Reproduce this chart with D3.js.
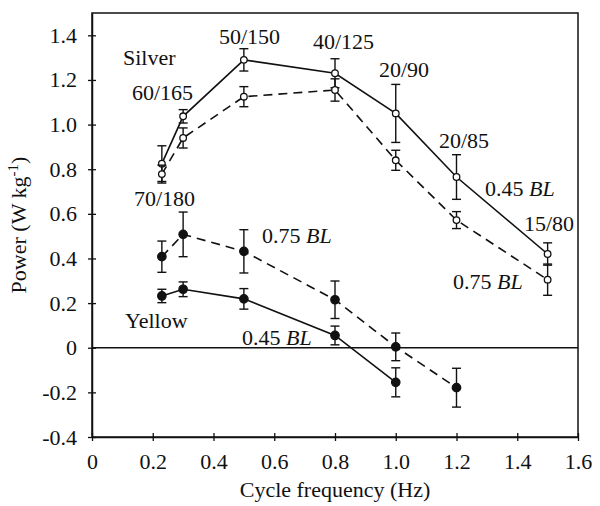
<!DOCTYPE html>
<html>
<head>
<meta charset="utf-8">
<script src="https://cdn.jsdelivr.net/npm/d3@7"></script>
<style>
  html, body { margin: 0; padding: 0; background: #fff; }
  svg { display: block; }
  text { font-family: "Liberation Serif", "Times New Roman", serif; fill: #111; }
</style>
</head>
<body>
<svg id="chart" width="600" height="506"></svg>
<script>
// ---- Data ----
const silverFreqs = [0.23, 0.3, 0.5, 0.8, 1.0, 1.2, 1.5];
const silver045 = [0.825, 1.037, 1.29, 1.23, 1.05, 0.765, 0.42];
const silver045Err = [0.08, 0.03, 0.05, 0.065, 0.13, 0.1, 0.05];
const silver075 = [0.778, 0.94, 1.125, 1.155, 0.84, 0.572, 0.305];
const silver075Err = [0.04, 0.045, 0.045, 0.05, 0.045, 0.038, 0.07];

const yellow045Freqs = [0.23, 0.3, 0.5, 0.8, 1.0];
const yellow045 = [0.232, 0.262, 0.219, 0.055, -0.155];
const yellow045Err = [0.03, 0.033, 0.046, 0.042, 0.065];
const yellow075Freqs = [0.23, 0.3, 0.5, 0.8, 1.0, 1.2];
const yellow075 = [0.408, 0.508, 0.432, 0.215, 0.004, -0.179];
const yellow075Err = [0.07, 0.1, 0.097, 0.084, 0.062, 0.087];

const xTicks = [0, 0.2, 0.4, 0.6, 0.8, 1.0, 1.2, 1.4, 1.6];
const xTickLabels = ["0", "0.2", "0.4", "0.6", "0.8", "1.0", "1.2", "1.4", "1.6"];
const yTicks = [-0.4, -0.2, 0, 0.2, 0.4, 0.6, 0.8, 1.0, 1.2, 1.4];
const yTickLabels = ["-0.4", "-0.2", "0", "0.2", "0.4", "0.6", "0.8", "1.0", "1.2", "1.4"];

const annotationTexts = ["Silver", "60/165", "50/150", "40/125", "20/90", "20/85", "15/80",
  "70/180", "Yellow"];
const blLabels = [["0.45 ", "BL"], ["0.75 ", "BL"], ["0.75 ", "BL"], ["0.45 ", "BL"]];

// ---- Layout ----
const svg = d3.select("#chart");
const mLeft = 92, mRight = 578, mTop = 13, mBottom = 437;
const x = d3.scaleLinear().domain([0, 1.6]).range([mLeft, mRight]);
const y = d3.scaleLinear().domain([-0.4, 1.5]).range([mBottom, mTop]);
const FS = 22;

// frame
svg.append("rect").attr("x", mLeft).attr("y", mTop).attr("width", mRight - mLeft).attr("height", mBottom - mTop)
  .attr("fill", "none").attr("stroke", "#111").attr("stroke-width", 1.5);

// zero line
svg.append("line").attr("x1", mLeft).attr("x2", mRight).attr("y1", y(0)).attr("y2", y(0))
  .attr("stroke", "#111").attr("stroke-width", 1.3);

// axes
const xAxis = d3.axisBottom(x).tickValues(xTicks).tickFormat((d, i) => xTickLabels[i])
  .tickSizeInner(4).tickSizeOuter(0).tickPadding(12);
const gx = svg.append("g").attr("transform", `translate(0,${mBottom})`).call(xAxis);
gx.select(".domain").attr("stroke", "#111").attr("stroke-width", 1.5);
gx.selectAll(".tick line").attr("y1", -4).attr("y2", 4).attr("stroke", "#111").attr("stroke-width", 1.3);
gx.selectAll(".tick text").attr("font-size", FS).attr("font-family", "Liberation Serif").attr("fill", "#111");

const yAxis = d3.axisLeft(y).tickValues(yTicks).tickFormat((d, i) => yTickLabels[i])
  .tickSizeInner(4).tickSizeOuter(0).tickPadding(11);
const gy = svg.append("g").attr("transform", `translate(${mLeft},0)`).call(yAxis);
gy.select(".domain").attr("stroke", "#111").attr("stroke-width", 1.5);
gy.selectAll(".tick line").attr("x1", -4).attr("x2", 4).attr("stroke", "#111").attr("stroke-width", 1.3);
gy.selectAll(".tick text").attr("font-size", FS).attr("font-family", "Liberation Serif").attr("fill", "#111");

// axis titles
svg.append("text").attr("x", (mLeft + mRight) / 2).attr("y", 497).attr("text-anchor", "middle")
  .attr("font-size", FS).text("Cycle frequency (Hz)");
const yt = svg.append("text").attr("transform", `translate(26,${(mTop + mBottom) / 2}) rotate(-90)`)
  .attr("text-anchor", "middle").attr("font-size", FS);
yt.append("tspan").text("Power (W kg");
yt.append("tspan").attr("dy", -8).attr("font-size", 15).text("-1");
yt.append("tspan").attr("dy", 8).text(")");

// series
function drawSeries(fx, vals, errs, dashed, filled) {
  const pts = fx.map((f, i) => ({ f, v: vals[i], e: errs[i] }));
  const line = d3.line().x(d => x(d.f)).y(d => y(d.v));
  svg.append("path").datum(pts).attr("d", line).attr("fill", "none").attr("stroke", "#111")
    .attr("stroke-width", 1.6).attr("stroke-dasharray", dashed ? "9,6" : null);
  const g = svg.append("g");
  pts.forEach(d => {
    const cx = x(d.f), y1 = y(d.v + d.e), y2 = y(d.v - d.e);
    g.append("line").attr("x1", cx).attr("x2", cx).attr("y1", y1).attr("y2", y2).attr("stroke", "#111").attr("stroke-width", 1.4);
    g.append("line").attr("x1", cx - 4.5).attr("x2", cx + 4.5).attr("y1", y1).attr("y2", y1).attr("stroke", "#111").attr("stroke-width", 1.4);
    g.append("line").attr("x1", cx - 4.5).attr("x2", cx + 4.5).attr("y1", y2).attr("y2", y2).attr("stroke", "#111").attr("stroke-width", 1.4);
    g.append("circle").attr("cx", cx).attr("cy", y(d.v)).attr("r", filled ? 4.2 : 3.3)
      .attr("fill", filled ? "#111" : "#fff").attr("stroke", "#111").attr("stroke-width", 1.3);
  });
}
drawSeries(silverFreqs, silver045, silver045Err, false, false);
drawSeries(silverFreqs, silver075, silver075Err, true, false);
drawSeries(yellow045Freqs, yellow045, yellow045Err, false, true);
drawSeries(yellow075Freqs, yellow075, yellow075Err, true, true);

// annotations (pixel layout)
const annotationPos = [[123, 65], [132, 100], [219, 44], [313, 49], [379, 77], [439, 148], [524, 231],
  [134, 206], [125, 328]];
annotationTexts.forEach((t, i) => {
  svg.append("text").attr("x", annotationPos[i][0]).attr("y", annotationPos[i][1]).attr("font-size", FS).text(t);
});
const blPos = [[485, 196], [453, 289], [262, 243], [242, 345]];
blLabels.forEach((p, i) => {
  const t = svg.append("text").attr("x", blPos[i][0]).attr("y", blPos[i][1]).attr("font-size", FS);
  t.append("tspan").text(p[0]);
  t.append("tspan").attr("font-style", "italic").text(p[1]);
});
</script>
</body>
</html>
